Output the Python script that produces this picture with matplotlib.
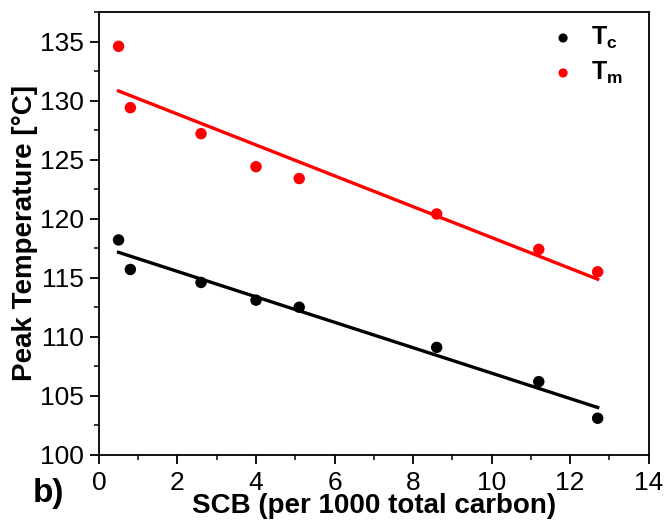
import numpy as np
import matplotlib
matplotlib.use("Agg")
import matplotlib.pyplot as plt
from matplotlib.ticker import MultipleLocator

plt.rcParams['font.family'] = ['Liberation Sans', 'DejaVu Sans']
plt.rcParams['mathtext.fontset'] = 'custom'
plt.rcParams['mathtext.rm'] = 'Liberation Sans'
plt.rcParams['mathtext.bf'] = 'Liberation Sans:bold'

scb = [0.5, 0.8, 2.6, 4.0, 5.1, 8.6, 11.2, 12.7]
t_c = [118.2, 115.7, 114.6, 113.1, 112.5, 109.1, 106.2, 103.1]
t_m = [134.6, 129.4, 127.2, 124.4, 123.4, 120.4, 117.4, 115.5]

fig = plt.figure(figsize=(6.64, 5.24), dpi=100)
ax = fig.add_axes([0.149, 0.132, 0.828, 0.845])

x = np.array(scb)
for y, col, lab in [(t_c, 'black', r'$\mathbf{T_c}$'), (t_m, '#ff0000', r'$\mathbf{T_m}$')]:
    ax.scatter(x, y, s=68, color=col, label=lab, zorder=3, edgecolors='none')
    p = np.polyfit(x, y, 1)
    xs = np.array([x.min(), x.max()])
    ax.plot(xs, np.polyval(p, xs), color=col, lw=2.4, zorder=2)

ax.set_xlim(0, 14)
ax.set_ylim(100, 137.5)
ax.xaxis.set_major_locator(MultipleLocator(2))
ax.xaxis.set_minor_locator(MultipleLocator(1))
ax.yaxis.set_major_locator(MultipleLocator(5))
ax.yaxis.set_minor_locator(MultipleLocator(2.5))
ax.tick_params(which='major', direction='out', length=6.5, width=1.3, labelsize=19, pad=4)
ax.tick_params(axis='x', which='major', pad=5)
ax.tick_params(which='minor', direction='out', length=3.5, width=1.1)
for s in ax.spines.values():
    s.set_linewidth(1.3)

ax.set_xlabel('SCB (per 1000 total carbon)', fontsize=20, fontweight='bold', labelpad=-1)
ax.set_ylabel('Peak Temperature [°C]', fontsize=20, fontweight='bold', labelpad=2)

leg = ax.legend(loc='upper right', bbox_to_anchor=(0.975, 1.0), frameon=False,
                fontsize=18, handlelength=1.0, handletextpad=0.6, labelspacing=0.35,
                borderaxespad=0.2, markerscale=0.8, borderpad=0.3)

fig.text(0.05, 0.042, 'b)', fontsize=24, fontweight='bold')

fig.savefig('out.png', dpi=100)
